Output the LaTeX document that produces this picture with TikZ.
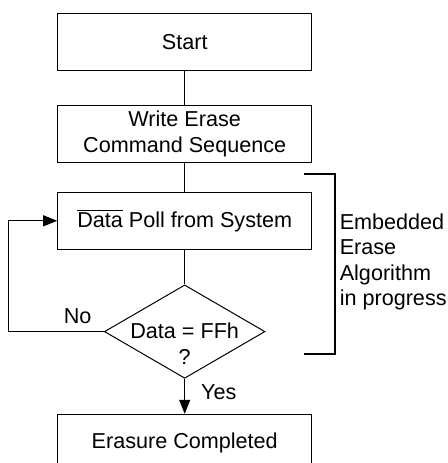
\documentclass[tikz,border=0pt]{standalone}
\usepackage{fontspec}
\setmainfont{Liberation Sans}
\usetikzlibrary{positioning}
\usetikzlibrary{calc}
\usetikzlibrary{shapes.geometric}
\usetikzlibrary{arrows.meta}

\begin{document}
\begin{tikzpicture}
 [ x=1pt, y=1pt
 , font=\fontsize{10.8}{12.8}\selectfont
 , stepbox/.style={draw, line width=0.5pt, minimum width=127pt, minimum height=28.5pt, inner sep=2pt, align=center}
 , test/.style={draw, diamond, line width=0.5pt, minimum width=80.3pt, minimum height=46.7pt, inner sep=0pt}
 , flow/.style={line width=0.5pt}
 , arrow/.style={flow, -{Triangle[length=7pt,width=5.5pt]}}
 , bracket/.style={line width=1pt}
 , note/.style={inner sep=0pt}
 ]
  \clip (0,0) rectangle (224,-231.5);

  % main column
  \node [stepbox] (start) at (92.35,-21.1) {Start};
  \node [stepbox, below=16.8pt of start] (write) {Write Erase\\Command Sequence};
  \node [stepbox, below=14.5pt of write] (poll) {$\overline{\mbox{Data}}$ Poll from System};
  \node [test, below=17.3pt of poll] (check) {};
  \node [note, align=center, yshift=-6pt] (question) at (check) {Data = FFh\\?};
  \node [stepbox, below=17.5pt of check] (done) {Erasure Completed};

  \draw [flow] (start) -- (write);
  \draw [flow] (write) -- (poll);
  \draw [flow] (poll) -- (check);
  \draw [arrow] (check.south) -- node [note, right=8pt, yshift=2pt] (yes) {Yes} (done.north);

  % loop back
  \coordinate (back) at (4.15,0);
  \draw [arrow] (check.west) -- (check.west -| back) |- (poll.west);
  \node [note, above left=3.5pt and 6pt of check.west] (no) {No};

  % bracket
  \coordinate (brtop) at (152,-87.15);
  \coordinate (brbot) at (152,-177);
  \draw [bracket] (brtop) -- ++(15.5,0) |- (brbot);
  \node [note, anchor=west, align=left] (algo) at (169.7,-131) {Embedded\\Erase\\Algorithm\\in progress};
\end{tikzpicture}
\end{document}
